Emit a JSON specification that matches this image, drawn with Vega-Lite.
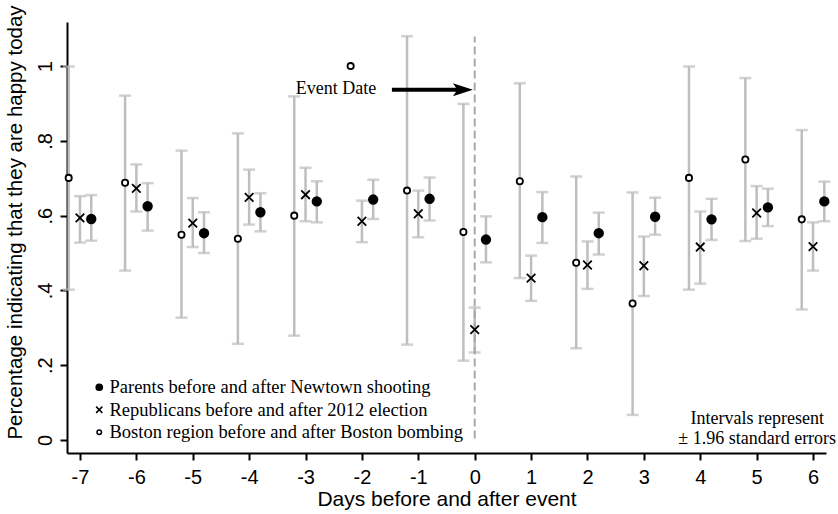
{
  "$schema": "https://vega.github.io/schema/vega-lite/v6.json",
  "width": 759,
  "height": 431,
  "autosize": "none",
  "padding": {"left": 67, "top": 22, "right": 12, "bottom": 61},
  "background": "white",
  "config": {
    "view": {"stroke": null},
    "axis": {
      "grid": false,
      "domainColor": "black",
      "domainWidth": 2,
      "tickColor": "black",
      "tickWidth": 2,
      "tickSize": 7,
      "labelFont": "Liberation Sans",
      "labelFontSize": 20,
      "labelColor": "black",
      "titleFont": "Liberation Sans",
      "titleFontSize": 21,
      "titleFontWeight": "normal",
      "titleColor": "black"
    }
  },
  "datasets": {
    "est": [
      {"day": -7, "group": "Parents before and after Newtown shooting", "pos": -6.8, "mean": 0.591, "lo": 0.533, "hi": 0.655},
      {"day": -6, "group": "Parents before and after Newtown shooting", "pos": -5.8, "mean": 0.625, "lo": 0.560, "hi": 0.687},
      {"day": -5, "group": "Parents before and after Newtown shooting", "pos": -4.8, "mean": 0.553, "lo": 0.500, "hi": 0.609},
      {"day": -4, "group": "Parents before and after Newtown shooting", "pos": -3.8, "mean": 0.609, "lo": 0.558, "hi": 0.660},
      {"day": -3, "group": "Parents before and after Newtown shooting", "pos": -2.8, "mean": 0.638, "lo": 0.582, "hi": 0.692},
      {"day": -2, "group": "Parents before and after Newtown shooting", "pos": -1.8, "mean": 0.643, "lo": 0.591, "hi": 0.696},
      {"day": -1, "group": "Parents before and after Newtown shooting", "pos": -0.8, "mean": 0.645, "lo": 0.587, "hi": 0.702},
      {"day": 0, "group": "Parents before and after Newtown shooting", "pos": 0.2, "mean": 0.536, "lo": 0.475, "hi": 0.598},
      {"day": 1, "group": "Parents before and after Newtown shooting", "pos": 1.2, "mean": 0.596, "lo": 0.527, "hi": 0.663},
      {"day": 2, "group": "Parents before and after Newtown shooting", "pos": 2.2, "mean": 0.553, "lo": 0.496, "hi": 0.608},
      {"day": 3, "group": "Parents before and after Newtown shooting", "pos": 3.2, "mean": 0.597, "lo": 0.549, "hi": 0.648},
      {"day": 4, "group": "Parents before and after Newtown shooting", "pos": 4.2, "mean": 0.590, "lo": 0.535, "hi": 0.645},
      {"day": 5, "group": "Parents before and after Newtown shooting", "pos": 5.2, "mean": 0.622, "lo": 0.572, "hi": 0.672},
      {"day": 6, "group": "Parents before and after Newtown shooting", "pos": 6.2, "mean": 0.638, "lo": 0.585, "hi": 0.691},
      {"day": -7, "group": "Republicans before and after 2012 election", "pos": -7, "mean": 0.594, "lo": 0.528, "hi": 0.652},
      {"day": -6, "group": "Republicans before and after 2012 election", "pos": -6, "mean": 0.673, "lo": 0.611, "hi": 0.737},
      {"day": -5, "group": "Republicans before and after 2012 election", "pos": -5, "mean": 0.580, "lo": 0.516, "hi": 0.647},
      {"day": -4, "group": "Republicans before and after 2012 election", "pos": -4, "mean": 0.649, "lo": 0.576, "hi": 0.723},
      {"day": -3, "group": "Republicans before and after 2012 election", "pos": -3, "mean": 0.656, "lo": 0.585, "hi": 0.728},
      {"day": -2, "group": "Republicans before and after 2012 election", "pos": -2, "mean": 0.585, "lo": 0.529, "hi": 0.640},
      {"day": -1, "group": "Republicans before and after 2012 election", "pos": -1, "mean": 0.605, "lo": 0.542, "hi": 0.667},
      {"day": 0, "group": "Republicans before and after 2012 election", "pos": 0, "mean": 0.295, "lo": 0.234, "hi": 0.354},
      {"day": 1, "group": "Republicans before and after 2012 election", "pos": 1, "mean": 0.433, "lo": 0.372, "hi": 0.493},
      {"day": 2, "group": "Republicans before and after 2012 election", "pos": 2, "mean": 0.468, "lo": 0.404, "hi": 0.531},
      {"day": 3, "group": "Republicans before and after 2012 election", "pos": 3, "mean": 0.466, "lo": 0.385, "hi": 0.544},
      {"day": 4, "group": "Republicans before and after 2012 election", "pos": 4, "mean": 0.516, "lo": 0.418, "hi": 0.611},
      {"day": 5, "group": "Republicans before and after 2012 election", "pos": 5, "mean": 0.607, "lo": 0.538, "hi": 0.679},
      {"day": 6, "group": "Republicans before and after 2012 election", "pos": 6, "mean": 0.517, "lo": 0.453, "hi": 0.582},
      {"day": -7, "group": "Boston region before and after Boston bombing", "pos": -7.2, "mean": 0.701, "lo": 0.402, "hi": 0.999},
      {"day": -6, "group": "Boston region before and after Boston bombing", "pos": -6.2, "mean": 0.688, "lo": 0.453, "hi": 0.921},
      {"day": -5, "group": "Boston region before and after Boston bombing", "pos": -5.2, "mean": 0.549, "lo": 0.327, "hi": 0.774},
      {"day": -4, "group": "Boston region before and after Boston bombing", "pos": -4.2, "mean": 0.538, "lo": 0.257, "hi": 0.820},
      {"day": -3, "group": "Boston region before and after Boston bombing", "pos": -3.2, "mean": 0.600, "lo": 0.279, "hi": 0.919},
      {"day": -2, "group": "Boston region before and after Boston bombing", "pos": -2.2, "mean": 1.0, "lo": null, "hi": null},
      {"day": -1, "group": "Boston region before and after Boston bombing", "pos": -1.2, "mean": 0.667, "lo": 0.255, "hi": 1.080},
      {"day": 0, "group": "Boston region before and after Boston bombing", "pos": -0.2, "mean": 0.556, "lo": 0.212, "hi": 0.899},
      {"day": 1, "group": "Boston region before and after Boston bombing", "pos": 0.8, "mean": 0.692, "lo": 0.433, "hi": 0.954},
      {"day": 2, "group": "Boston region before and after Boston bombing", "pos": 1.8, "mean": 0.474, "lo": 0.245, "hi": 0.705},
      {"day": 3, "group": "Boston region before and after Boston bombing", "pos": 2.8, "mean": 0.365, "lo": 0.067, "hi": 0.662},
      {"day": 4, "group": "Boston region before and after Boston bombing", "pos": 3.8, "mean": 0.701, "lo": 0.402, "hi": 0.999},
      {"day": 5, "group": "Boston region before and after Boston bombing", "pos": 4.8, "mean": 0.750, "lo": 0.532, "hi": 0.968},
      {"day": 6, "group": "Boston region before and after Boston bombing", "pos": 5.8, "mean": 0.590, "lo": 0.349, "hi": 0.829}
    ]
  },
  "layer": [
    {
      "data": {"name": "est"},
      "mark": {"type": "rule", "color": "#bebebe", "strokeWidth": 2.5},
      "encoding": {
        "x": {
          "field": "pos", "type": "quantitative",
          "scale": {"domain": [-7.23, 6.23], "nice": false, "zero": false},
          "axis": {
            "values": [-7, -6, -5, -4, -3, -2, -1, 0, 1, 2, 3, 4, 5, 6],
            "labelExpr": "'' + datum.value",
            "labelPadding": 7,
            "labelFlush": false,
            "labelOverlap": false,
            "title": "Days before and after event",
            "titlePadding": 1
          }
        },
        "y": {
          "field": "lo", "type": "quantitative",
          "scale": {"domain": [-0.035, 1.118], "nice": false, "zero": false},
          "axis": {
            "values": [0, 0.2, 0.4, 0.6, 0.8, 1],
            "labelExpr": "datum.value == 0 ? '0' : datum.value == 1 ? '1' : replace(format(datum.value, '.1f'), '0.', '.')",
            "labelAngle": -90,
            "labelAlign": "center",
            "labelBaseline": "bottom",
            "labelPadding": 5,
            "labelFlush": false,
            "labelOverlap": false,
            "title": "Percentage indicating that they are happy today",
            "titleFontSize": 20.5,
            "titleY": 200,
            "titlePadding": 10
          }
        },
        "y2": {"field": "hi"}
      }
    },
    {
      "data": {"name": "est"},
      "mark": {"type": "tick", "orient": "horizontal", "color": "#bebebe", "thickness": 2.5, "size": 12},
      "encoding": {
        "x": {"field": "pos", "type": "quantitative"},
        "y": {"field": "lo", "type": "quantitative"}
      }
    },
    {
      "data": {"name": "est"},
      "mark": {"type": "tick", "orient": "horizontal", "color": "#bebebe", "thickness": 2.5, "size": 12},
      "encoding": {
        "x": {"field": "pos", "type": "quantitative"},
        "y": {"field": "hi", "type": "quantitative"}
      }
    },
    {
      "data": {"values": [{}]},
      "mark": {"type": "rule", "color": "#a8a8a8", "strokeWidth": 2, "strokeDash": [8, 4]},
      "encoding": {
        "x": {"datum": 0, "type": "quantitative"},
        "y": {"datum": 0.004, "type": "quantitative"},
        "y2": {"datum": 1.079}
      }
    },
    {
      "data": {"name": "est"},
      "mark": {"type": "point", "size": 115, "strokeWidth": 1.8, "opacity": 1},
      "encoding": {
        "x": {"field": "pos", "type": "quantitative"},
        "y": {"field": "mean", "type": "quantitative"},
        "shape": {
          "field": "group", "type": "nominal",
          "scale": {
            "domain": ["Parents before and after Newtown shooting", "Republicans before and after 2012 election", "Boston region before and after Boston bombing"],
            "range": ["M0.8,0A0.8,0.8,0,1,1,-0.8,0A0.8,0.8,0,1,1,0.8,0Z", "M-0.8,-0.8L0.8,0.8M-0.8,0.8L0.8,-0.8", "M0.58,0A0.58,0.58,0,1,1,-0.58,0A0.58,0.58,0,1,1,0.58,0Z"]
          },
          "legend": {
            "title": null,
            "orient": "none",
            "legendX": 23,
            "legendY": 356,
            "padding": 0,
            "labelFont": "Liberation Serif",
            "labelFontSize": 18.5,
            "labelColor": "black",
            "labelLimit": 0,
            "symbolSize": 60,
            "symbolStrokeWidth": 1.5,
            "rowPadding": 3.5,
            "labelOffset": 1
          }
        },
        "fill": {
          "field": "group", "type": "nominal",
          "scale": {
            "domain": ["Parents before and after Newtown shooting", "Republicans before and after 2012 election", "Boston region before and after Boston bombing"],
            "range": ["black", "transparent", "white"]
          },
          "legend": {
            "title": null,
            "orient": "none",
            "legendX": 23,
            "legendY": 356,
            "padding": 0,
            "labelFont": "Liberation Serif",
            "labelFontSize": 18.5,
            "labelColor": "black",
            "labelLimit": 0,
            "symbolSize": 60,
            "symbolStrokeWidth": 1.5,
            "rowPadding": 3.5,
            "labelOffset": 1
          }
        },
        "stroke": {
          "field": "group", "type": "nominal",
          "scale": {
            "domain": ["Parents before and after Newtown shooting", "Republicans before and after 2012 election", "Boston region before and after Boston bombing"],
            "range": ["black", "black", "black"]
          },
          "legend": {
            "title": null,
            "orient": "none",
            "legendX": 23,
            "legendY": 356,
            "padding": 0,
            "labelFont": "Liberation Serif",
            "labelFontSize": 18.5,
            "labelColor": "black",
            "labelLimit": 0,
            "symbolSize": 60,
            "symbolStrokeWidth": 1.5,
            "rowPadding": 3.5,
            "labelOffset": 1
          }
        }
      }
    },
    {
      "data": {"values": [{}]},
      "mark": {"type": "text", "text": "Event Date", "font": "Liberation Serif", "fontSize": 18, "color": "black", "align": "right", "baseline": "middle"},
      "encoding": {
        "x": {"datum": -1.746, "type": "quantitative"},
        "y": {"datum": 0.939, "type": "quantitative"}
      }
    },
    {
      "data": {"values": [{}]},
      "mark": {"type": "rule", "color": "black", "strokeWidth": 4},
      "encoding": {
        "x": {"datum": -1.468, "type": "quantitative"},
        "x2": {"datum": -0.25},
        "y": {"datum": 0.937, "type": "quantitative"}
      }
    },
    {
      "data": {"values": [{}]},
      "mark": {"type": "point", "shape": "M1,0L-1,-0.65L-0.55,0L-1,0.65Z", "size": 400, "filled": true, "color": "black", "opacity": 1},
      "encoding": {
        "x": {"datum": -0.209, "type": "quantitative"},
        "y": {"datum": 0.937, "type": "quantitative"}
      }
    },
    {
      "data": {"values": [{}]},
      "mark": {"type": "text", "text": "Intervals represent", "font": "Liberation Serif", "fontSize": 18, "color": "black", "align": "center", "baseline": "middle"},
      "encoding": {
        "x": {"datum": 5.01, "type": "quantitative"},
        "y": {"datum": 0.055, "type": "quantitative"}
      }
    },
    {
      "data": {"values": [{}]},
      "mark": {"type": "text", "text": "± 1.96 standard errors", "font": "Liberation Serif", "fontSize": 18, "color": "black", "align": "center", "baseline": "middle"},
      "encoding": {
        "x": {"datum": 5.01, "type": "quantitative"},
        "y": {"datum": 0.003, "type": "quantitative"}
      }
    }
  ]
}
